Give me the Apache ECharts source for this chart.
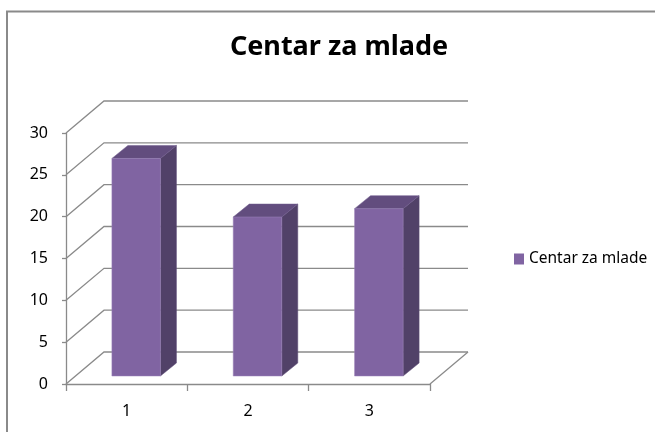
<!DOCTYPE html>
<html>
<head>
<meta charset="utf-8">
<script src="https://cdn.jsdelivr.net/npm/echarts@6/dist/echarts.min.js"></script>
<style>
  html, body { margin: 0; padding: 0; background: #fff; }
  #main { width: 655px; height: 432px; }
</style>
</head>
<body>
<div id="main"></div>
<script>
// podaci
const categories = ['1', '2', '3']
const values = [26, 19, 20]
const yTicks = [0, 5, 10, 15, 20, 25, 30]
const seriesName = 'Centar za mlade'

// 3d pomaci (pikseli)
const DEPTH_X = 38, DEPTH_Y = -32   // dubina zida
const FACE_X = 9.5, FACE_Y = -8     // prednja strana stupca
const BAR_DX = 16, BAR_DY = -13     // dubina stupca
const GRID_COLOR = '#8a8a8a'

const chart = echarts.init(document.getElementById('main'))

// zidovi i pod
function renderWalls(params, api) {
  const cs = params.coordSys
  const v = api.value(0)
  const y = api.coord([0, v])[1]
  const gx = cs.x, gw = cs.width
  const children = [{
    type: 'polyline',
    shape: { points: [[gx, y], [gx + DEPTH_X, y + DEPTH_Y], [gx + gw + DEPTH_X, y + DEPTH_Y]] },
    style: { stroke: GRID_COLOR, lineWidth: 1.3, fill: null }
  }]
  if (v === 0) {
    children.push({
      type: 'line',
      shape: { x1: gx + gw, y1: y, x2: gx + gw + DEPTH_X, y2: y + DEPTH_Y },
      style: { stroke: GRID_COLOR, lineWidth: 1.3 }
    })
  }
  return { type: 'group', children: children }
}

// 3d stupci
function renderBar(params, api) {
  const idx = api.value(0)
  const top = api.coord([idx, api.value(1)])
  const base = api.coord([idx, 0])
  const w = api.size([1, 0])[0] * 0.4
  const x0 = top[0] - w / 2 + FACE_X
  const x1 = x0 + w
  const yTop = top[1] + FACE_Y
  const yBot = base[1] + FACE_Y
  return {
    type: 'group',
    children: [
      {
        type: 'polygon',
        shape: { points: [[x1, yTop], [x1 + BAR_DX, yTop + BAR_DY], [x1 + BAR_DX, yBot + BAR_DY], [x1, yBot]] },
        style: { fill: '#514168', stroke: '#5d4b77', lineWidth: 0.5 }
      },
      {
        type: 'polygon',
        shape: { points: [[x0, yTop], [x0 + BAR_DX, yTop + BAR_DY], [x1 + BAR_DX, yTop + BAR_DY], [x1, yTop]] },
        style: { fill: '#624d7e', stroke: '#6f5a8c', lineWidth: 0.5 }
      },
      {
        type: 'rect',
        shape: { x: x0, y: yTop, width: w, height: yBot - yTop },
        style: { fill: '#8064a2', stroke: '#9a82b8', lineWidth: 0.5 }
      }
    ]
  }
}

const option = {
  backgroundColor: '#ffffff',
  animation: false,
  title: {
    text: 'Centar za mlade',
    left: 334,
    top: 29,
    textAlign: 'center',
    textStyle: { fontFamily: 'Noto Sans', fontWeight: 'bold', fontSize: 27, color: '#000' }
  },
  legend: {
    data: [{ name: seriesName, icon: 'rect' }],
    left: 509,
    top: 246,
    itemWidth: 10,
    itemHeight: 11,
    itemGap: 3,
    textStyle: { fontFamily: 'Noto Sans', fontSize: 15.5, color: '#000' }
  },
  grid: { left: 66, right: 225, top: 133, bottom: 48 },
  xAxis: {
    type: 'category',
    data: categories,
    axisLine: { lineStyle: { color: GRID_COLOR, width: 1.3 } },
    axisTick: { show: true, length: 7, lineStyle: { color: GRID_COLOR, width: 1.3 } },
    axisLabel: { margin: 19, fontFamily: 'Noto Sans', fontSize: 16, color: '#000' },
    splitLine: { show: false }
  },
  yAxis: {
    type: 'value',
    min: 0,
    max: 30,
    interval: 5,
    axisLine: { show: true, lineStyle: { color: GRID_COLOR, width: 1.3 } },
    axisTick: { show: true, length: 4, lineStyle: { color: GRID_COLOR, width: 1.3 } },
    axisLabel: { margin: 18, fontFamily: 'Noto Sans', fontSize: 16, color: '#000' },
    splitLine: { show: false }
  },
  graphic: [{
    type: 'rect',
    shape: { x: 7, y: 11.5, width: 700, height: 500 },
    style: { fill: null, stroke: '#8a8a8a', lineWidth: 2 },
    z: 100
  }],
  series: [
    {
      type: 'custom',
      name: 'walls',
      renderItem: renderWalls,
      data: yTicks.map(v => [v]),
      encode: { y: 0 },
      silent: true,
      z: 1
    },
    {
      type: 'custom',
      name: seriesName,
      renderItem: renderBar,
      itemStyle: { color: '#8064a2' },
      data: values.map((v, i) => [i, v]),
      encode: { x: 0, y: 1 },
      z: 5
    }
  ]
}

chart.setOption(option)
</script>
</body>
</html>
